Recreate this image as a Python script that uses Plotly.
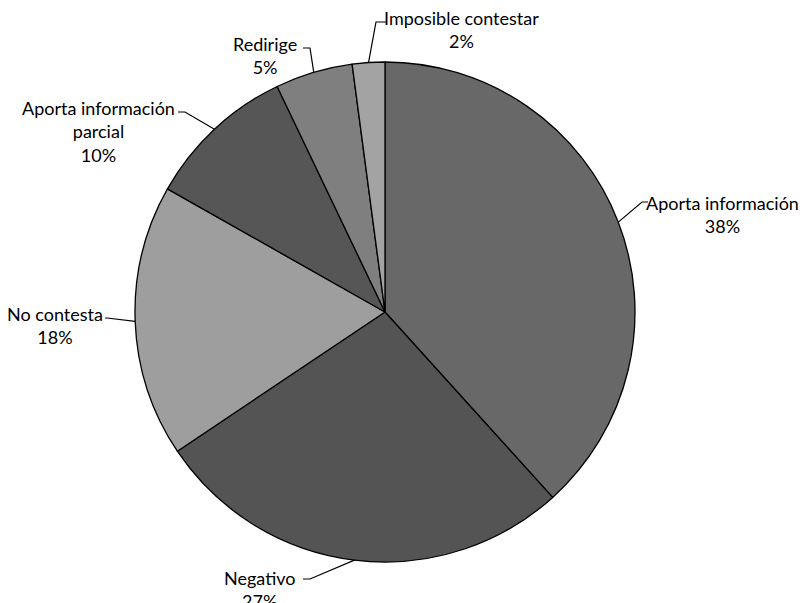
import math
import plotly.graph_objects as go

# ---- data ----
categories = ["Aporta información", "Negativo", "No contesta",
              "Aporta información parcial", "Redirige", "Imposible contestar"]
values = [38.3, 27.3, 17.6, 9.7, 5.0, 2.1]
label_text = ["Aporta información<br>38%", "Negativo<br>27%", "No contesta<br>18%",
              "Aporta información<br>parcial<br>10%", "Redirige<br>5%",
              "Imposible contestar<br>2%"]
colors = ["#686868", "#545454", "#9e9e9e", "#565656", "#7f7f7f", "#a3a3a3"]

# ---- layout (pixels) ----
W, H = 802, 603
CX, CY, R = 385, 312, 250
# elbow point, end of horizontal leader, text anchor (x, y, xanchor)
elbows = [(642, 202), (310, 579), (107, 318), (185, 112), (310, 48), (376, 22)]
ends = [(648, 202), (303, 579), (105, 318), (178, 112), (303, 48), (386, 22)]
texts = [(722, 214, "center"), (260, 589, "center"), (55, 325, "center"),
         (98, 131, "center"), (265, 55, "center"), (461, 29, "center")]

fig = go.Figure()
fig.add_trace(go.Pie(
    labels=categories, values=values, sort=False, direction="clockwise",
    rotation=0, marker=dict(colors=colors, line=dict(color="black", width=1.3)),
    textinfo="none", hoverinfo="label+percent", showlegend=False,
    domain=dict(x=[(CX - R) / W, (CX + R) / W], y=[1 - (CY + R) / H, 1 - (CY - R) / H]),
))

total = sum(values)
cum = 0
shapes = []
annotations = []
for i, v in enumerate(values):
    mid = (cum + v / 2) / total * 2 * math.pi
    cum += v
    px = CX + R * math.sin(mid)
    py = CY - R * math.cos(mid)
    ex, ey = elbows[i]
    hx, hy = ends[i]
    shapes.append(dict(type="path", xref="x", yref="y",
                       path=f"M {px},{py} L {ex},{ey} L {hx},{hy}",
                       line=dict(color="black", width=1.2)))
    tx, ty, xa = texts[i]
    annotations.append(dict(x=tx, y=ty, xref="x", yref="y", text=label_text[i],
                            showarrow=False, xanchor=xa, yanchor="middle",
                            align="center", font=dict(size=18, color="#000000")))

fig.update_layout(
    width=W, height=H, margin=dict(l=0, r=0, t=0, b=0),
    paper_bgcolor="white", plot_bgcolor="rgba(0,0,0,0)",
    font=dict(family="Lato, 'Open Sans', sans-serif", size=18, color="black"),
    xaxis=dict(range=[0, W], visible=False, fixedrange=True, domain=[0, 1]),
    yaxis=dict(range=[H, 0], visible=False, fixedrange=True, domain=[0, 1]),
    shapes=shapes, annotations=annotations,
)
fig.write_html("out.html")
